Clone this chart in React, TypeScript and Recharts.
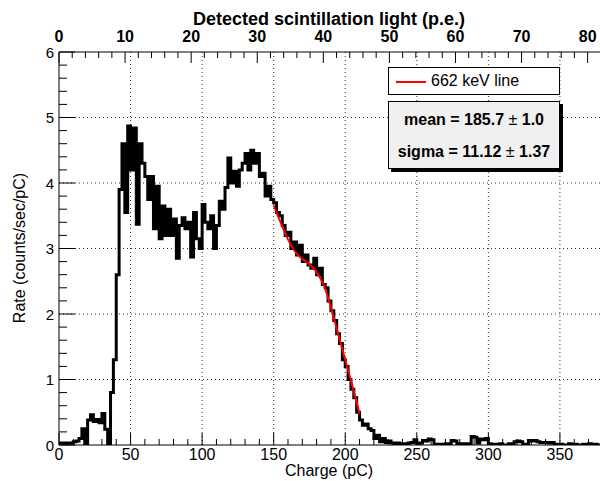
import { ComposedChart, Line, XAxis, YAxis, ReferenceLine } from 'recharts';

const FONT = '"Liberation Sans", Arial, Helvetica, sans-serif';

// histogram: 2 pC bins starting at 0
const BIN_WIDTH = 2;
const rate = [
  0.03, 0.03, 0.02, 0.03, 0.03, 0.05, 0.06, 0.1, 0.25, 0.0,
  0.38, 0.46, 0.36, 0.39, 0.34, 0.48, 0.24, 0.0, 0.8, 1.3,
  2.6, 3.9, 4.6, 3.55, 4.87, 4.2, 4.84, 3.37, 4.6, 4.3,
  4.1, 3.75, 4.1, 3.3, 3.95, 3.15, 3.65, 3.2, 3.6, 3.2,
  3.45, 2.85, 3.35, 3.47, 3.3, 3.4, 2.87, 3.55, 3.15, 3.0,
  3.67, 3.4, 3.3, 3.5, 3.0, 3.35, 3.72, 3.6, 3.93, 4.38,
  4.0, 4.18, 3.95, 4.2, 4.3, 4.45, 4.2, 4.5, 4.3, 4.45,
  4.1, 4.15, 3.8, 3.95, 3.75, 3.7, 3.55, 3.5, 3.35, 3.2,
  3.25, 3.0, 3.1, 2.9, 3.05, 2.8, 2.9, 2.75, 2.7, 2.85,
  2.6, 2.7, 2.45, 2.4, 2.2, 2.05, 1.9, 1.7, 1.55, 1.3,
  1.2, 1.0, 0.85, 0.72, 0.5, 0.38, 0.3, 0.32, 0.25, 0.22,
  0.1, 0.15, 0.05, 0.1, 0.04, 0.06, 0.03, 0.02, 0.03, 0.01,
  0.02, 0.01, 0.03, 0.04, 0.08, 0.02, 0.03, 0.07, 0.06, 0.09,
  0.08, 0.01, 0.0, 0.01, 0.0, 0.02, 0.0, 0.07, 0.06, 0.01,
  0.02, 0.0, 0.02, 0.01, 0.13, 0.12, 0.03, 0.09, 0.08, 0.1,
  0.02, 0.01, 0.0, 0.01, 0.02, 0.0, 0.0, 0.02, 0.01, 0.05,
  0.06, 0.05, 0.0, 0.01, 0.07, 0.06, 0.07, 0.05, 0.04, 0.04,
  0.04, 0.03, 0.04, 0.01, 0.0, 0.01, 0.0, 0.0, 0.02, 0.0,
  0.01, 0.0, 0.0, 0.01, 0.0, 0.02, 0.0, 0.01, 0.0, 0.0,
];

// 662 keV fit curve
const fitCharge = [150, 155, 160, 165, 170, 175, 180, 185, 190, 195, 200, 205, 210];
const fitRate = [3.66, 3.39, 3.14, 2.95, 2.84, 2.76, 2.64, 2.44, 2.1, 1.7, 1.3, 0.9, 0.48];

const chargeLabels = [0, 50, 100, 150, 200, 250, 300, 350];
const peLabels = [0, 10, 20, 30, 40, 50, 60, 70, 80];
const rateLabels = [0, 1, 2, 3, 4, 5, 6];
const PC_PER_PE = 4.617;
const X_MAX = 378;

const chargeTicks = Array.from({ length: 38 }, (_, i) => i * 10);
const peTicks = Array.from({ length: 41 }, (_, i) => i * 2 * PC_PER_PE);
const rateTicks = Array.from({ length: 31 }, (_, i) => Math.round(i * 2) / 10);

const histData = rate.map((r, i) => ({ x: i * BIN_WIDTH, rate: r }));
histData.push({ x: rate.length * BIN_WIDTH, rate: rate[rate.length - 1] });
const fitData = fitCharge.map((x, i) => ({ x, fit: fitRate[i] }));

const BottomTick = (props: any) => {
  const { x, y, payload } = props;
  const v = payload.value;
  const major = chargeLabels.includes(v);
  return (
    <g>
      <line x1={x} x2={x} y1={y} y2={y - (major ? 12 : 6)} stroke="#000" />
      {major && (
        <text x={x} y={y + 15} textAnchor="middle" fontSize={16} fontFamily={FONT} fill="#000">
          {v}
        </text>
      )}
    </g>
  );
};

const TopTick = (props: any) => {
  const { x, y, payload } = props;
  const pe = Math.round(payload.value / PC_PER_PE);
  const major = peLabels.includes(pe);
  return (
    <g>
      <line x1={x} x2={x} y1={y} y2={y + (major ? 11 : 6)} stroke="#000" />
      {major && (
        <text x={x} y={y - 10} textAnchor="middle" fontSize={16} fontWeight="bold" fontFamily={FONT} fill="#000">
          {pe}
        </text>
      )}
    </g>
  );
};

const LeftTick = (props: any) => {
  const { x, y, payload } = props;
  const v = payload.value;
  const major = Math.abs(v - Math.round(v)) < 1e-6;
  return (
    <g>
      <line x1={x} x2={x + (major ? 16 : 8)} y1={y} y2={y} stroke="#000" />
      {major && (
        <text x={x - 5} y={y + 5.5} textAnchor="end" fontSize={15} fontFamily={FONT} fill="#000">
          {rateLabels[Math.round(v)]}
        </text>
      )}
    </g>
  );
};

export default function App() {
  return (
    <div style={{ position: 'absolute', left: 0, top: 0, width: 600, height: 481, background: '#fff', fontFamily: FONT }}>
      <ComposedChart width={600} height={481} data={histData} margin={{ top: 0, right: 0, bottom: 0, left: 0 }}>
        <XAxis
          xAxisId="bottom"
          dataKey="x"
          type="number"
          domain={[0, X_MAX]}
          allowDataOverflow
          ticks={chargeTicks}
          interval={0}
          height={36}
          tickSize={0}
          tickMargin={0}
          tickLine={false}
          tick={BottomTick}
          axisLine={{ stroke: '#000' }}
          label={{
            content: () => (
              <text x={329} y={476} textAnchor="middle" fontSize={16} fontFamily={FONT} fill="#000">
                Charge (pC)
              </text>
            ),
          }}
        />
        <XAxis
          xAxisId="top"
          orientation="top"
          dataKey="x"
          type="number"
          domain={[0, X_MAX]}
          allowDataOverflow
          ticks={peTicks}
          interval={0}
          height={52}
          tickSize={0}
          tickMargin={0}
          tickLine={false}
          tick={TopTick}
          axisLine={{ stroke: '#000' }}
          label={{
            content: () => (
              <text x={329} y={25} textAnchor="middle" fontSize={18} fontWeight="bold" fontFamily={FONT} fill="#000">
                Detected scintillation light (p.e.)
              </text>
            ),
          }}
        />
        <YAxis
          dataKey="rate"
          type="number"
          domain={[0, 6]}
          allowDataOverflow
          ticks={rateTicks}
          interval={0}
          width={59}
          tickSize={0}
          tickMargin={0}
          tickLine={false}
          tick={LeftTick}
          axisLine={{ stroke: '#000' }}
          label={{
            content: () => (
              <text
                x={25}
                y={248}
                transform="rotate(-90 25 248)"
                textAnchor="middle"
                fontSize={16}
                fontFamily={FONT}
                fill="#000"
              >
                Rate (counts/sec/pC)
              </text>
            ),
          }}
        />
        {chargeLabels.slice(1).map((v) => (
          <ReferenceLine key={'gx' + v} xAxisId="bottom" x={v} stroke="#333" strokeDasharray="1 3" />
        ))}
        {rateLabels.slice(1, 6).map((v) => (
          <ReferenceLine key={'gy' + v} xAxisId="bottom" y={v} stroke="#333" strokeDasharray="1 3" />
        ))}
        <Line
          xAxisId="bottom"
          type="stepAfter"
          dataKey="rate"
          stroke="#000"
          strokeWidth={3}
          dot={false}
          isAnimationActive={false}
        />
        <Line
          xAxisId="bottom"
          data={fitData}
          type="monotone"
          dataKey="fit"
          stroke="#ff0000"
          strokeWidth={2}
          dot={false}
          isAnimationActive={false}
        />
      </ComposedChart>
      <div
        style={{
          position: 'absolute',
          left: 388,
          top: 67,
          width: 170,
          height: 26,
          border: '1px solid #000',
          background: '#fff',
          boxSizing: 'content-box',
        }}
      >
        <div style={{ position: 'absolute', left: 7, top: 13, width: 30, height: 2, background: '#ff0000' }} />
        <div style={{ position: 'absolute', left: 42, top: 3, fontSize: 16, lineHeight: '20px', color: '#000' }}>
          662 keV line
        </div>
      </div>
      <div
        style={{
          position: 'absolute',
          left: 388,
          top: 101,
          width: 170,
          height: 66,
          border: '1px solid #000',
          background: '#f0f0f0',
          boxShadow: '3px 3px 0 #000',
          fontSize: 16,
          fontWeight: 'bold',
          color: '#000',
          textAlign: 'center',
        }}
      >
        <div style={{ position: 'absolute', left: 0, right: 0, top: 8, lineHeight: '20px' }}>
          mean = 185.7 <span style={{ fontWeight: 'normal' }}>±</span> 1.0
        </div>
        <div style={{ position: 'absolute', left: 0, right: 0, top: 40, lineHeight: '20px' }}>
          sigma = 11.12 <span style={{ fontWeight: 'normal' }}>±</span> 1.37
        </div>
      </div>
    </div>
  );
}
